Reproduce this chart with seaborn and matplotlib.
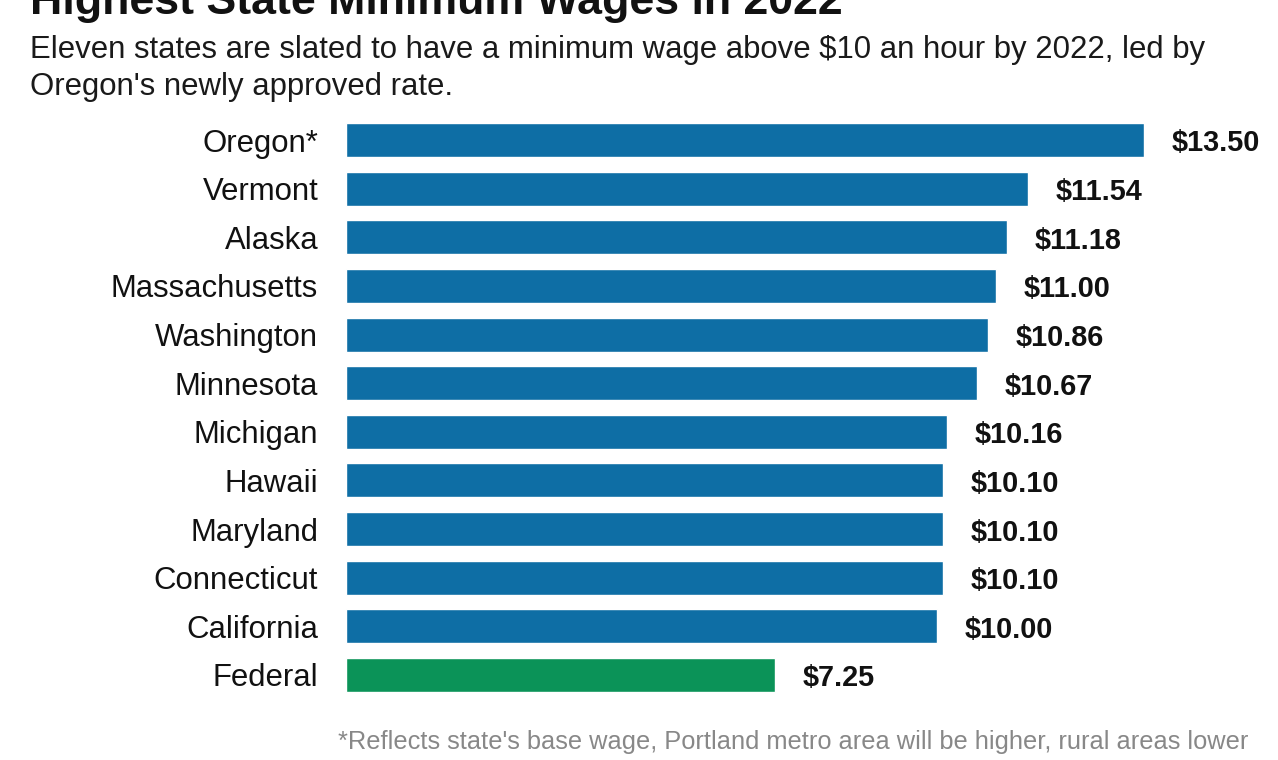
import matplotlib
matplotlib.use("Agg")
import matplotlib.pyplot as plt
import seaborn as sns
import pandas as pd

states = ["Oregon*", "Vermont", "Alaska", "Massachusetts", "Washington", "Minnesota",
          "Michigan", "Hawaii", "Maryland", "Connecticut", "California", "Federal"]
wages = [13.50, 11.54, 11.18, 11.00, 10.86, 10.67, 10.16, 10.10, 10.10, 10.10, 10.00, 7.25]
value_labels = ["$13.50", "$11.54", "$11.18", "$11.00", "$10.86", "$10.67",
                "$10.16", "$10.10", "$10.10", "$10.10", "$10.00", "$7.25"]

BLUE = "#0e6ea5"
GREEN = "#0b9358"

sns.set_theme(style="white")
plt.rcParams["font.family"] = ["Liberation Sans", "DejaVu Sans"]

W, H = 1278, 760
fig = plt.figure(figsize=(W / 100, H / 100), dpi=100)
x0, x1 = 346, 1144
ytop, ybot = 115.7, 699.3
ax = fig.add_axes([x0 / W, 1 - ybot / H, (x1 - x0) / W, (ybot - ytop) / H])

df = pd.DataFrame({"state": states, "wage": wages})
palette = [BLUE] * (len(states) - 1) + [GREEN]
sns.barplot(data=df, x="wage", y="state", hue="state", palette=palette,
            orient="h", width=0.7, legend=False, ax=ax, saturation=1)

ax.set_xlim(0, 13.5)
ax.set_ylim(len(states) - 0.5, -0.5)
for s in ax.spines.values():
    s.set_visible(False)
ax.set_xticks([])
ax.set_xlabel("")
ax.set_ylabel("")
ax.tick_params(axis="y", length=0, pad=20, labelsize=22.4, labelcolor="#111111")

for i, (v, lab) in enumerate(zip(wages, value_labels)):
    ax.annotate(lab, (v, i), xytext=(20, -2.5), textcoords="offset points",
                ha="left", va="center", fontsize=20.8, fontweight="bold",
                color="#111111", annotation_clip=False)

fig.text(30 / W, 1 - 14 / H, "Highest State Minimum Wages in 2022", ha="left",
         va="baseline", fontsize=32.2, fontweight="bold", color="#111111")
fig.text(30 / W, 1 - 50 / H,
         "Eleven states are slated to have a minimum wage above $10 an hour by 2022, led by",
         ha="left", va="center", fontsize=22.4, color="#1a1a1a")
fig.text(30 / W, 1 - 87 / H, "Oregon's newly approved rate.", ha="left", va="center",
         fontsize=22.4, color="#1a1a1a")
fig.text(1248 / W, 1 - 742 / H,
         "*Reflects state's base wage, Portland metro area will be higher, rural areas lower",
         ha="right", va="center", fontsize=18.3, color="#888888")

fig.savefig("out.png", dpi=100, facecolor="white")
